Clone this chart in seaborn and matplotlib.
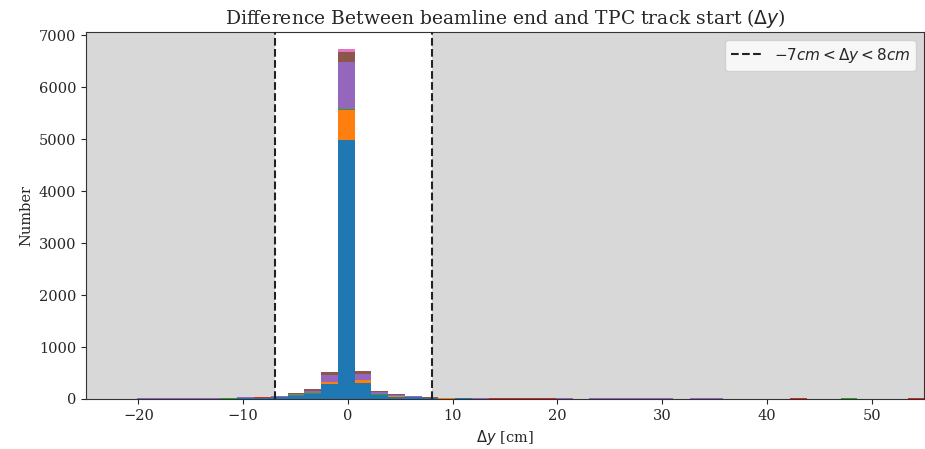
import numpy as np
import pandas as pd
import matplotlib
matplotlib.use("Agg")
import matplotlib.pyplot as plt
import seaborn as sns

# ---- data ----
bin_centers = [-19.35, -17.75, -16.15, -14.55, -12.95, -11.35, -9.75, -8.15, -6.55, -4.95,
               -3.35, -1.75, -0.15, 1.45, 3.05, 4.65, 6.25, 7.85, 9.45, 11.05,
               12.65, 14.25, 15.85, 17.45, 19.05, 20.65, 22.25, 23.85, 25.45, 27.05,
               28.65, 30.25, 31.85, 33.45, 35.05, 36.65, 38.25, 39.85, 41.45, 43.05,
               44.65, 46.25, 47.85, 49.45, 51.05, 52.65, 54.25]

series_blue = [3, 3, 3, 3, 4, 6, 10, 18, 30, 55,
               90, 285, 4980, 305, 70, 45, 30, 15, 8, 12,
               3, 3, 3, 3, 3, 3, 0, 4, 3, 3,
               4, 4, 3, 4, 4, 0, 0, 0, 0, 3,
               0, 0, 3, 0, 0, 0, 3]
series_orange = [0, 0, 0, 0, 0, 1, 2, 3, 8, 10,
                 15, 40, 580, 55, 15, 8, 5, 3, 2, 1,
                 0, 0, 0, 0, 0, 0, 0, 0, 0, 0,
                 0, 0, 0, 0, 0, 0, 0, 0, 0, 0,
                 0, 0, 0, 0, 0, 0, 0]
series_green = [0, 0, 0, 0, 2, 6, 7, 6, 3, 3,
                5, 5, 15, 5, 5, 3, 3, 2, 3, 1,
                1, 0, 0, 0, 0, 0, 0, 3, 4, 4,
                4, 3, 0, 0, 0, 0, 0, 0, 0, 0,
                0, 0, 10, 0, 0, 0, 0]
series_red = [0, 0, 0, 0, 0, 1, 2, 2, 3, 3,
              5, 5, 5, 5, 5, 3, 3, 2, 2, 1,
              4, 8, 10, 10, 8, 5, 0, 0, 0, 0,
              0, 0, 0, 0, 0, 0, 0, 0, 0, 10,
              0, 0, 0, 0, 0, 0, 10]
series_purple = [9, 9, 9, 9, 10, 8, 9, 12, 12, 25,
                 45, 120, 900, 110, 35, 20, 12, 6, 5, 10,
                 3, 3, 3, 3, 4, 4, 0, 4, 4, 4,
                 4, 4, 4, 8, 8, 0, 0, 0, 0, 3,
                 0, 0, 2, 0, 0, 0, 3]
series_brown = [2, 2, 2, 2, 2, 2, 3, 4, 5, 10,
                25, 55, 190, 50, 15, 8, 5, 3, 2, 3,
                1, 0, 0, 0, 0, 0, 0, 2, 2, 2,
                2, 2, 2, 3, 3, 0, 0, 0, 0, 3,
                0, 0, 2, 0, 0, 0, 3]
series_pink = [0, 0, 0, 0, 0, 0, 1, 1, 2, 3,
               5, 10, 60, 8, 5, 3, 2, 1, 0, 0,
               0, 0, 0, 0, 0, 0, 0, 0, 0, 0,
               0, 0, 0, 0, 0, 0, 0, 0, 0, 0,
               0, 0, 0, 0, 0, 0, 0]

series_names = ["s0", "s1", "s2", "s3", "s4", "s5", "s6"]
series_values = [series_blue, series_orange, series_green, series_red,
                 series_purple, series_brown, series_pink]

cut_low, cut_high = -7, 8
x_ticks = [-20, -10, 0, 10, 20, 30, 40, 50]
y_ticks = [0, 1000, 2000, 3000, 4000, 5000, 6000, 7000]

# ---- build long-form table ----
rows = []
for name, vals in zip(series_names, series_values):
    for c, v in zip(bin_centers, vals):
        rows.append({"dy": c, "w": v, "series": name})
df = pd.DataFrame(rows)

colors = ["#1f77b4", "#ff7f0e", "#2ca02c", "#d62728", "#9467bd", "#8c564b", "#e377c2"]
palette = dict(zip(series_names, colors))

bin_edges = [float(e) for e in np.linspace(-20.15, 59.85, 51)]

sns.set_style("ticks")
plt.rcParams["font.family"] = ["DejaVu Serif"]

fig = plt.figure(figsize=(9.25, 4.49), dpi=100)
ax = fig.add_axes([86 / 925, 1 - 399 / 449, (924 - 86) / 925, (399 - 32) / 449])

ax.axvspan(-25, cut_low, color="#d8d8d8", zorder=0, lw=0)
ax.axvspan(cut_high, 55, color="#d8d8d8", zorder=0, lw=0)

sns.histplot(data=df, x="dy", weights="w", hue="series",
             hue_order=series_names[::-1], palette=palette,
             multiple="stack", bins=bin_edges, element="bars",
             linewidth=0, alpha=1, legend=False, ax=ax)

ax.axvline(cut_low, color="#222222", ls="--", lw=1.5,
           label=r"$-7cm < \Delta y < 8cm$", zorder=5)
ax.axvline(cut_high, color="#222222", ls="--", lw=1.5, zorder=5)

ax.set_xlim(-25, 55)
ax.set_ylim(0, 7060)
ax.set_xticks(x_ticks)
ax.set_yticks(y_ticks)
ax.tick_params(labelsize=10.5)
for s in ax.spines.values():
    s.set_color("#333333")
    s.set_visible(True)

ax.set_title(r"Difference Between beamline end and TPC track start ($\Delta y$)", fontsize=13.5)
ax.set_xlabel(r"$\Delta y$ [cm]", fontsize=10.5)
ax.set_ylabel("Number", fontsize=10.5)
ax.legend(loc="upper right", prop={"family": "DejaVu Sans", "size": 11})

fig.savefig("out.png", dpi=100)
